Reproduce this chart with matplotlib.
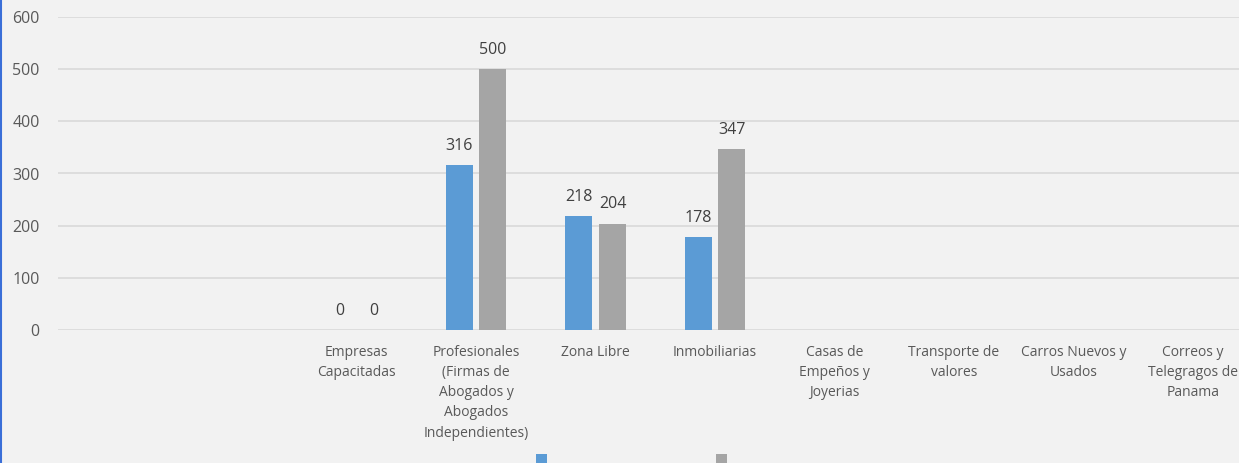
import numpy as np
import matplotlib.pyplot as plt

plt.rcParams['font.family'] = ['Open Sans', 'DejaVu Sans']

categorias = ['', '',
              'Empresas\nCapacitadas',
              'Profesionales\n(Firmas de\nAbogados y\nAbogados\nIndependientes)',
              'Zona Libre',
              'Inmobiliarias',
              'Casas de\nEmpeños y\nJoyerias',
              'Transporte de\nvalores',
              'Carros Nuevos y\nUsados',
              'Correos y\nTelegragos de\nPanama']
serie1 = [None, None, 0, 316, 218, 178, None, None, None, None]
serie2 = [None, None, 0, 500, 204, 347, None, None, None, None]
yticks = [0, 100, 200, 300, 400, 500, 600]

fondo = '#F2F2F2'
azul = '#5B9BD5'
gris = '#A5A5A5'

W, H = 1239, 463
fig = plt.figure(figsize=(W / 100, H / 100), dpi=100, facecolor=fondo)
ax = fig.add_axes([57.75 / W, (H - 330) / H, 1195 / W, 313 / H])
ax.set_facecolor(fondo)

x = np.arange(len(categorias))
ancho = 0.226
desp = 0.142
v1 = np.array([np.nan if v is None else v for v in serie1], dtype=float)
v2 = np.array([np.nan if v is None else v for v in serie2], dtype=float)
b1 = ax.bar(x - desp, v1, ancho, color=azul, zorder=3)
b2 = ax.bar(x + desp, v2, ancho, color=gris, zorder=3)

for xs, vals in ((x - desp, serie1), (x + desp, serie2)):
    for xi, v in zip(xs, vals):
        if v is None:
            continue
        ax.annotate(str(v), (xi, v), xytext=(0, 8), textcoords='offset points',
                    ha='center', va='bottom', fontsize=11.5, color='#404040')

ax.set_xlim(-0.5, len(categorias) - 0.5)
ax.set_ylim(0, 600)
ax.set_yticks(yticks)
ax.set_xticks(x)
ax.set_xticklabels(categorias, fontsize=10, color='#595959', linespacing=1.46,
                   va='top')
ax.tick_params(axis='y', length=0, pad=13, labelsize=11.5, labelcolor='#595959')
ax.tick_params(axis='x', length=0, pad=11)
ax.yaxis.grid(True, color='#D9D9D9', linewidth=1.2, zorder=0)
ax.set_axisbelow(True)
for s in ax.spines.values():
    s.set_visible(False)

fs = 10 * 100 / 72
fig.legend([b1, b2], ['', ''], loc='upper left',
           bbox_to_anchor=(536 / W, 1 - 453 / H), ncol=2, frameon=False,
           fontsize=10, handlelength=11 / fs, handleheight=11 / fs,
           handletextpad=0, columnspacing=180 / fs - 11 / fs,
           borderpad=0, borderaxespad=0)

# borde azul a la izquierda
fig.add_artist(plt.Line2D([0.0008, 0.0008], [0, 1], color='#3A6FD8',
                          linewidth=1.5, transform=fig.transFigure))

fig.savefig('out.png', dpi=100, facecolor=fondo)
